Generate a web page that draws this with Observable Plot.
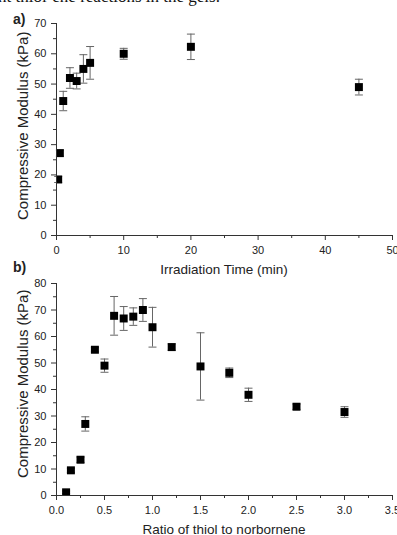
<!DOCTYPE html>
<html>
<head>
<meta charset="utf-8">
<script src="https://cdn.jsdelivr.net/npm/d3@7"></script>
<script src="https://cdn.jsdelivr.net/npm/@observablehq/plot@0.6"></script>
<style>
  html, body { margin: 0; padding: 0; background: #fff; }
  #page { position: relative; width: 397px; height: 535px; overflow: hidden; font-family: "Liberation Sans", Arial, sans-serif; color: #222; }
  .abs { position: absolute; }
  .ttl { font-size: 13.5px; white-space: nowrap; }
  .ylab { font-size: 15px; white-space: nowrap; transform-origin: 0 0; }
  .plab { font-size: 14px; font-weight: bold; }
  #topline { left: -2px; top: -12px; font-family: "Liberation Serif", "Times New Roman", serif; font-size: 17px; line-height: 1; white-space: nowrap; color: #111; }
</style>
</head>
<body>
<div id="page">
  <div id="topline" class="abs">nt thiol-ene reactions in the gels.</div>
  <div class="abs plab" style="left:13px; top:11px;">a)</div>
  <div class="abs plab" style="left:13px; top:259px;">b)</div>
  <div id="pa" class="abs" style="left:0; top:0;"></div>
  <div id="pb" class="abs" style="left:0; top:275px;"></div>
  <div class="abs ttl" style="left:0; width:397px; top:262px;"><div style="position:absolute; left:224px; transform:translateX(-50%);">Irradiation Time (min)</div></div>
  <div class="abs ttl" style="left:0; width:397px; top:522px;"><div style="position:absolute; left:224px; transform:translateX(-50%);">Ratio of thiol to norbornene</div></div>
  <div class="abs ylab" id="yla" style="left:14px;">Compressive Modulus (kPa)</div>
  <div class="abs ylab" id="ylb" style="left:14px;">Compressive Modulus (kPa)</div>
</div>
<script>
// Panel a: irradiation time
const timeX   = [0.25, 0.5, 1, 2, 3, 4, 5, 10, 20, 45];
const timeY   = [18.5, 27.2, 44.4, 52.0, 51.0, 55.0, 57.0, 60.0, 62.3, 49.0];
const timeErr = [1.0, 1.0, 3.2, 3.4, 2.6, 4.7, 5.4, 1.8, 4.2, 2.6];

// Panel b: ratio of thiol to norbornene
const ratioX   = [0.1, 0.15, 0.25, 0.3, 0.4, 0.5, 0.6, 0.7, 0.8, 0.9, 1.0, 1.2, 1.5, 1.8, 2.0, 2.5, 3.0];
const ratioY   = [1.2, 9.5, 13.5, 27.0, 55.0, 49.0, 67.8, 66.8, 67.5, 70.0, 63.5, 56.0, 48.7, 46.3, 38.0, 33.5, 31.5];
const ratioErr = [0.5, 0.8, 1.0, 2.7, 0.8, 2.5, 7.3, 4.5, 3.3, 4.3, 7.5, 1.2, 12.7, 1.8, 2.5, 1.0, 2.0];

const aXTicks = [0, 10, 20, 30, 40, 50];
const aXMinor = [5, 15, 25, 35, 45];
const aYTicks = [0, 10, 20, 30, 40, 50, 60, 70];
const aYMinor = [5, 15, 25, 35, 45, 55, 65];
const bXTicks = [0, 0.5, 1, 1.5, 2, 2.5, 3, 3.5];
const bXMinor = [0.25, 0.75, 1.25, 1.75, 2.25, 2.75, 3.25];
const bYTicks = [0, 10, 20, 30, 40, 50, 60, 70, 80];
const bYMinor = [5, 15, 25, 35, 45, 55, 65, 75];

const capSymbol = {
  draw(context, size) {
    const w = Math.sqrt(size) / 2;
    context.moveTo(-w, 0);
    context.lineTo(w, 0);
  }
};

const axisColor = "#333";
const errColor = "#666";
const textColor = "#222";

function panel({xs, ys, errs, xDomain, yDomain, xTicks, xMinor, yTicks, yMinor, xFmt, height, marginTop, marginBottom}) {
  const data = xs.map((x, i) => ({x, y: ys[i], lo: ys[i] - errs[i], hi: ys[i] + errs[i]}));
  return Plot.plot({
    width: 397,
    height,
    marginLeft: 56,
    marginRight: 5,
    marginTop,
    marginBottom,
    style: {fontFamily: "Liberation Sans, Arial, sans-serif", background: "transparent", overflow: "visible", color: textColor},
    x: {domain: xDomain},
    y: {domain: yDomain},
    marks: [
      Plot.ruleX(data, {x: "x", y1: "lo", y2: "hi", stroke: errColor, strokeWidth: 1}),
      Plot.dot(data, {x: "x", y: "lo", symbol: capSymbol, r: 4.5, stroke: errColor, strokeWidth: 1, fill: "none"}),
      Plot.dot(data, {x: "x", y: "hi", symbol: capSymbol, r: 4.5, stroke: errColor, strokeWidth: 1, fill: "none"}),
      Plot.dot(data, {x: "x", y: "y", symbol: "square", r: 4.5, fill: "#000", stroke: "none", clip: true}),
      Plot.axisX({ticks: xTicks, tickSize: 5, tickPadding: 6, tickFormat: xFmt, fontSize: 11, stroke: axisColor, label: null}),
      Plot.axisX({ticks: xMinor, tickSize: 3, tickFormat: () => "", stroke: axisColor, label: null}),
      Plot.axisY({ticks: yTicks, tickSize: 5, tickPadding: 5, fontSize: 11, stroke: axisColor, label: null}),
      Plot.axisY({ticks: yMinor, tickSize: 3, tickFormat: () => "", stroke: axisColor, label: null}),
      Plot.ruleX([xDomain[0]], {stroke: axisColor, strokeWidth: 1}),
      Plot.ruleY([yDomain[0]], {stroke: axisColor, strokeWidth: 1})
    ]
  });
}

const pa = panel({xs: timeX, ys: timeY, errs: timeErr, xDomain: [0, 50], yDomain: [0, 70],
  xTicks: aXTicks, xMinor: aXMinor, yTicks: aYTicks, yMinor: aYMinor, xFmt: d3.format("d"),
  height: 262, marginTop: 23, marginBottom: 27});
document.getElementById("pa").appendChild(pa);

const pb = panel({xs: ratioX, ys: ratioY, errs: ratioErr, xDomain: [0, 3.5], yDomain: [0, 80],
  xTicks: bXTicks, xMinor: bXMinor, yTicks: bYTicks, yMinor: bYMinor, xFmt: d3.format(".1f"),
  height: 250, marginTop: 8, marginBottom: 30});
document.getElementById("pb").appendChild(pb);

// rotated y-axis titles, centered on each panel's frame
function placeY(id, cy) {
  const el = document.getElementById(id);
  const w = el.getBoundingClientRect().width;
  el.style.top = (cy + w / 2) + "px";
  el.style.transform = "rotate(-90deg)";
}
placeY("yla", 125.5);
placeY("ylb", 384);
</script>
</body>
</html>
